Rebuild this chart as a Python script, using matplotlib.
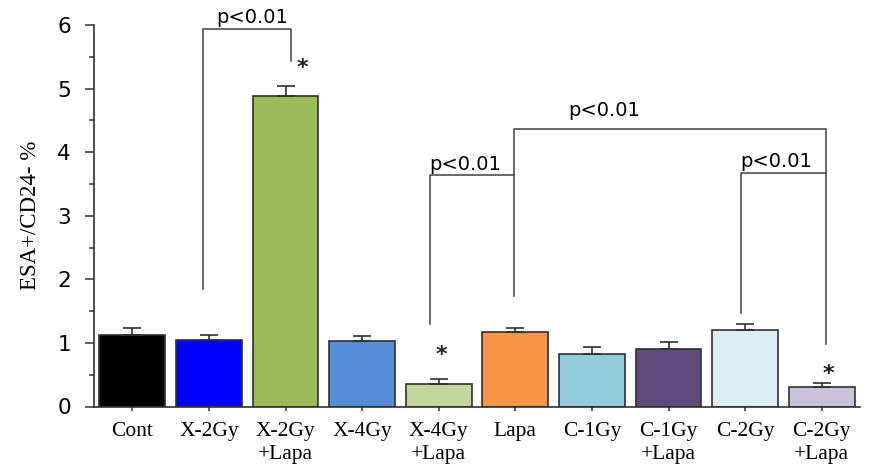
import matplotlib
matplotlib.use("Agg")
import matplotlib.pyplot as plt
from matplotlib.ticker import MultipleLocator
import numpy as np

categories = ["Cont", "X-2Gy", "X-2Gy\n+Lapa", "X-4Gy", "X-4Gy\n+Lapa", "Lapa",
              "C-1Gy", "C-1Gy\n+Lapa", "C-2Gy", "C-2Gy\n+Lapa"]
means = [1.12, 1.05, 4.88, 1.03, 0.35, 1.17, 0.82, 0.90, 1.20, 0.31]
errors = [0.11, 0.08, 0.16, 0.08, 0.08, 0.06, 0.11, 0.11, 0.10, 0.06]
colors = ["#000000", "#0000FF", "#9BBB59", "#558ED5", "#C3D69B", "#F79646",
          "#93CDDD", "#604A7B", "#DBEEF4", "#CCC1DA"]
ylabel = "ESA+/CD24- %"
p_text = "p<0.01"

fig = plt.figure(figsize=(8.71, 4.66), dpi=100)
ax = fig.add_axes([94/871, 59.5/466, 766/871, 381.5/466])

x = np.arange(len(categories))
ax.bar(x, means, width=0.86, color=colors, edgecolor="#303030", linewidth=1.2, zorder=2)
ax.errorbar(x, means, yerr=[np.zeros(len(means)), errors], fmt="none",
            ecolor="#303030", elinewidth=1.2, capsize=6.5, capthick=1.2, zorder=3)

ax.set_xlim(-0.5, 9.5)
ax.set_ylim(0, 6)
ax.spines["top"].set_visible(False)
ax.spines["right"].set_visible(False)
for s in ("left", "bottom"):
    ax.spines[s].set_color("#303030")
    ax.spines[s].set_linewidth(1.2)

ax.yaxis.set_major_locator(MultipleLocator(1))
ax.yaxis.set_minor_locator(MultipleLocator(0.5))
ax.tick_params(axis="y", which="major", length=6.5, width=1.1, color="#303030",
               pad=10, labelsize=15.5)
ax.tick_params(axis="y", which="minor", length=3.5, width=1.1, color="#303030")
for lab in ax.get_yticklabels():
    lab.set_family("DejaVu Sans")

ax.set_xticks(x)
ax.set_xticklabels(categories, family="Liberation Serif", fontsize=15.5, linespacing=1.32)
ax.tick_params(axis="x", which="major", length=3, width=1.1, color="#303030", pad=8)

ax.set_ylabel(ylabel, family="Liberation Serif", fontsize=16.5, labelpad=12)

lc = "#404040"
lw = 1.1
def line(xs, ys):
    ax.plot(xs, ys, color=lc, lw=lw, clip_on=False, zorder=4)

pfont = dict(fontsize=14, family="DejaVu Sans")
# bracket X-2Gy vs X-2Gy+Lapa
line([0.92, 0.92, 2.067, 2.067], [1.85, 5.94, 5.94, 5.43])
ax.text(1.56, 6.12, p_text, ha="center", va="center", clip_on=False, **pfont)
# brackets around Lapa
line([3.88, 3.88, 4.985], [1.30, 3.635, 3.635])
line([4.985, 4.985, 9.05, 9.05], [1.74, 4.37, 4.37, 0.98])
line([7.94, 7.94, 9.05], [1.47, 3.67, 3.67])
ax.text(4.34, 3.81, p_text, ha="center", va="center", **pfont)
ax.text(6.16, 4.65, p_text, ha="center", va="center", **pfont)
ax.text(8.40, 3.86, p_text, ha="center", va="center", **pfont)

# significance stars
for sx, sy in [(2.22, 5.32), (4.03, 0.81), (9.09, 0.51)]:
    ax.text(sx, sy, "*", ha="center", va="center", fontsize=16, fontweight="bold",
            family="DejaVu Sans", color="#202020")

fig.savefig("out.png", dpi=100)
